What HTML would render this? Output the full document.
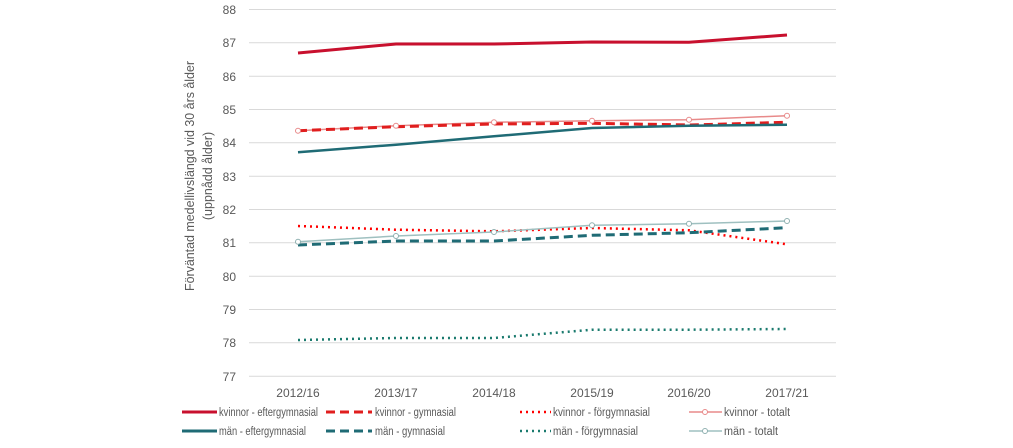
<!DOCTYPE html>
<html><head><meta charset="utf-8"><style>
body{margin:0;background:#fff;}
svg text{font-family:"Liberation Sans",sans-serif;fill:#595959;}
</style></head><body>
<svg width="1013" height="443" viewBox="0 0 1013 443" xmlns="http://www.w3.org/2000/svg">
<g stroke="#d9d9d9" stroke-width="1">
<line x1="249" x2="836" y1="9.5" y2="9.5"/><line x1="249" x2="836" y1="42.8" y2="42.8"/><line x1="249" x2="836" y1="76.2" y2="76.2"/><line x1="249" x2="836" y1="109.5" y2="109.5"/><line x1="249" x2="836" y1="142.8" y2="142.8"/><line x1="249" x2="836" y1="176.2" y2="176.2"/><line x1="249" x2="836" y1="209.5" y2="209.5"/><line x1="249" x2="836" y1="242.8" y2="242.8"/><line x1="249" x2="836" y1="276.2" y2="276.2"/><line x1="249" x2="836" y1="309.5" y2="309.5"/><line x1="249" x2="836" y1="342.8" y2="342.8"/><line x1="249" x2="836" y1="376.2" y2="376.2"/>
</g>
<g font-size="12" text-anchor="end">
<text x="236" y="14">88</text><text x="236" y="47">87</text><text x="236" y="81">86</text><text x="236" y="114">85</text><text x="236" y="147">84</text><text x="236" y="181">83</text><text x="236" y="214">82</text><text x="236" y="247">81</text><text x="236" y="281">80</text><text x="236" y="314">79</text><text x="236" y="347">78</text><text x="236" y="381">77</text>
</g>
<g font-size="12" text-anchor="middle">
<text x="298" y="397">2012/16</text><text x="396" y="397">2013/17</text><text x="494" y="397">2014/18</text><text x="592" y="397">2015/19</text><text x="689" y="397">2016/20</text><text x="787" y="397">2017/21</text>
</g>
<g font-size="12.5" text-anchor="middle">
<text transform="translate(194,176) rotate(-90)" textLength="230" lengthAdjust="spacingAndGlyphs">Förväntad medellivslängd vid 30 års ålder</text>
<text transform="translate(212,176) rotate(-90)">(uppnådd ålder)</text>
</g>
<g fill="none">
<polyline stroke="#c8102e" stroke-width="3" points="298,53 396,44 494,44 592,42 689,42.3 787,35"/>
<polyline stroke="#e88a8a" stroke-width="1.5" points="298,130.7 396,125.7 494,122.3 592,120.7 689,119.7 787,115.7"/>
<polyline stroke="#e01e1e" stroke-width="3" stroke-dasharray="9,5" points="298,130.7 396,126.7 494,124 592,123.3 689,125 787,122.3"/>
<polyline stroke="#1f6b75" stroke-width="2.5" points="298,152.3 396,144.7 494,136.3 592,128 689,125.7 787,124.7"/>
<polyline stroke="#ff0000" stroke-width="2.5" stroke-dasharray="2,4" points="298,226 396,229.7 494,231.3 592,228 689,230.3 787,244.3"/>
<polyline stroke="#9fc0c0" stroke-width="1.5" points="298,241.7 396,236 494,232 592,225.3 689,223.7 787,221"/>
<polyline stroke="#1f6b75" stroke-width="3" stroke-dasharray="9,5" points="298,245 396,241 494,241 592,235.3 689,232.7 787,227.7"/>
<polyline stroke="#1a7a6e" stroke-width="2.5" stroke-dasharray="2,4" points="298,340 396,338 494,338 592,329.7 689,329.7 787,329"/>
</g>
<g fill="#fff" stroke="#e88a8a" stroke-width="1"><circle cx="298" cy="130.7" r="2.5"/><circle cx="396" cy="125.7" r="2.5"/><circle cx="494" cy="122.3" r="2.5"/><circle cx="592" cy="120.7" r="2.5"/><circle cx="689" cy="119.7" r="2.5"/><circle cx="787" cy="115.7" r="2.5"/></g>
<g fill="#fff" stroke="#8fb0b0" stroke-width="1"><circle cx="298" cy="241.7" r="2.5"/><circle cx="396" cy="236" r="2.5"/><circle cx="494" cy="232" r="2.5"/><circle cx="592" cy="225.3" r="2.5"/><circle cx="689" cy="223.7" r="2.5"/><circle cx="787" cy="221" r="2.5"/></g>
<g font-size="11.5" lengthAdjust="spacingAndGlyphs">
<line x1="182" x2="217" y1="412" y2="412" stroke="#c8102e" stroke-width="3"/><text x="219" y="416" textLength="99" lengthAdjust="spacingAndGlyphs">kvinnor - eftergymnasial</text>
<line x1="326" x2="372" y1="412" y2="412" stroke="#e01e1e" stroke-width="3" stroke-dasharray="9,5"/><text x="375" y="416" textLength="81" lengthAdjust="spacingAndGlyphs">kvinnor - gymnasial</text>
<line x1="520" x2="551" y1="412" y2="412" stroke="#ff0000" stroke-width="2.5" stroke-dasharray="2,4"/><text x="553" y="416" textLength="97" lengthAdjust="spacingAndGlyphs">kvinnor - förgymnasial</text>
<line x1="689" x2="722" y1="412" y2="412" stroke="#e88a8a" stroke-width="1.5"/><circle cx="705" cy="412" r="2.5" fill="#fff" stroke="#e88a8a"/><text x="724" y="416" textLength="66" lengthAdjust="spacingAndGlyphs">kvinnor - totalt</text>
<line x1="182" x2="217" y1="431" y2="431" stroke="#1f6b75" stroke-width="3"/><text x="219" y="435" textLength="87" lengthAdjust="spacingAndGlyphs">män - eftergymnasial</text>
<line x1="326" x2="372" y1="431" y2="431" stroke="#1f6b75" stroke-width="3" stroke-dasharray="9,5"/><text x="375" y="435" textLength="70" lengthAdjust="spacingAndGlyphs">män - gymnasial</text>
<line x1="520" x2="551" y1="431" y2="431" stroke="#1a7a6e" stroke-width="2.5" stroke-dasharray="2,4"/><text x="553" y="435" textLength="85" lengthAdjust="spacingAndGlyphs">män - förgymnasial</text>
<line x1="689" x2="722" y1="431" y2="431" stroke="#9fc0c0" stroke-width="1.5"/><circle cx="705" cy="431" r="2.5" fill="#fff" stroke="#8fb0b0"/><text x="724" y="435" textLength="54" lengthAdjust="spacingAndGlyphs">män - totalt</text>
</g>
</svg>
</body></html>
